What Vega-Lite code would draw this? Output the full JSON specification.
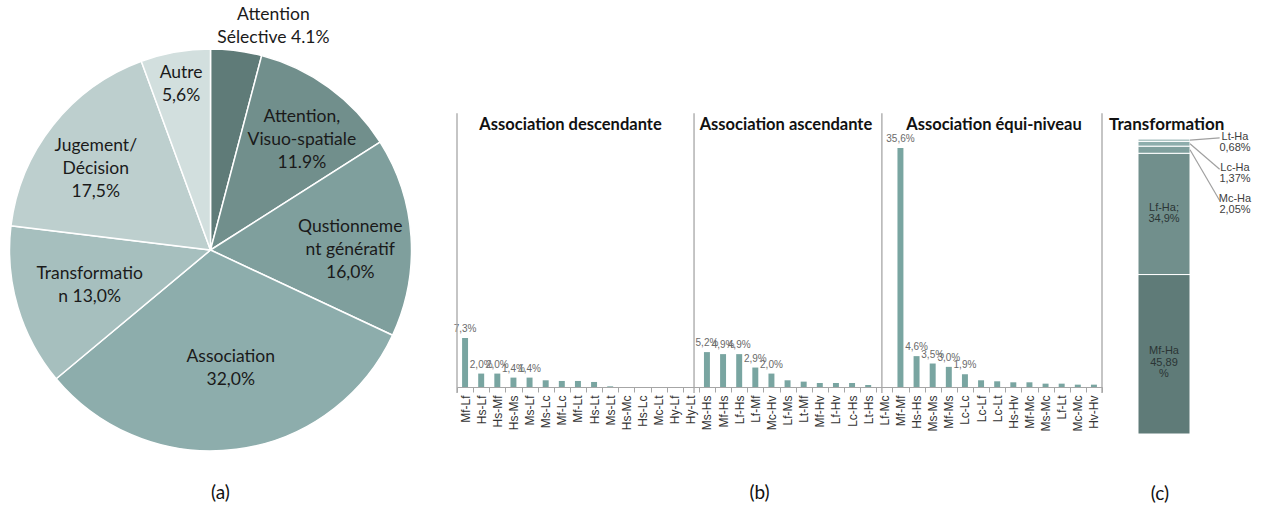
{
  "$schema": "https://vega.github.io/schema/vega-lite/v6.json",
  "padding": 0,
  "spacing": 36,
  "bounds": "flush",
  "background": "white",
  "config": {"view": {"stroke": null}, "font": "Lato"},
  "hconcat": [
    {
      "width": 421,
      "height": 500,
      "data": {"values": [
        {"cat": "Attention Sélective", "v": 4.1, "label": "Attention\nSélective 4.1%"},
        {"cat": "Attention, Visuo-spatiale", "v": 11.9, "label": "Attention,\nVisuo-spatiale\n11.9%"},
        {"cat": "Questionnement génératif", "v": 16.0, "label": "Qustionneme\nnt génératif\n16,0%"},
        {"cat": "Association", "v": 32.0, "label": "Association\n32,0%"},
        {"cat": "Transformation", "v": 13.0, "label": "Transformatio\nn 13,0%"},
        {"cat": "Jugement/Décision", "v": 17.5, "label": "Jugement/\nDécision\n17,5%"},
        {"cat": "Autre", "v": 5.6, "label": "Autre\n5,6%"}
      ]},
      "transform": [{"window": [{"op": "row_number", "as": "i"}]}],
      "title": {"text": "(a)", "orient": "bottom", "offset": -7, "baseline": "middle", "dx": 10, "fontSize": 19, "fontWeight": "normal", "font": "Lato", "color": "#111111"},
      "encoding": {
        "theta": {"field": "v", "type": "quantitative", "stack": true},
        "order": {"field": "i", "type": "quantitative"}
      },
      "layer": [
        {
          "mark": {"type": "arc", "outerRadius": 201, "stroke": "white", "strokeWidth": 1.5},
          "encoding": {
            "color": {"field": "cat", "type": "nominal", "legend": null,
              "scale": {"domain": ["Attention Sélective", "Attention, Visuo-spatiale", "Questionnement génératif", "Association", "Transformation", "Jugement/Décision", "Autre"],
                        "range": ["#5f7b78", "#718f8c", "#7f9f9d", "#8dadac", "#a6bfbe", "#bdcfce", "#d2dfde"]}}
          }
        },
        {
          "mark": {"type": "text", "lineBreak": "\n", "font": "Lato", "fontSize": 17.5, "lineHeight": 23, "color": "#1a1a1a", "align": "center", "baseline": "middle",
            "radius": {"expr": "datum.cat==='Attention Sélective'?225:datum.cat==='Autre'?168:datum.cat==='Association'?119:datum.cat==='Transformation'?126:datum.cat==='Attention, Visuo-spatiale'?143:140"},
            "dx": {"expr": "datum.cat==='Attention Sélective'?34:datum.cat==='Attention, Visuo-spatiale'?7:datum.cat==='Association'?5:datum.cat==='Jugement/Décision'?-5:0"},
            "dy": {"expr": "(datum.cat==='Attention, Visuo-spatiale'?5:datum.cat==='Questionnement génératif'?9:datum.cat==='Jugement/Décision'?6:0) - (length(split(datum.label, '\\n')) - 1) * 11.5"}
          },
          "encoding": {"text": {"field": "label", "type": "nominal"}}
        }
      ]
    },
    {
      "width": 645,
      "height": 387,
      "data": {"values": [
        {"section": "Association descendante", "cat": "Mf-Lf", "v": 7.3},
        {"section": "Association descendante", "cat": "Hs-Lf", "v": 2.0},
        {"section": "Association descendante", "cat": "Hs-Mf", "v": 2.0},
        {"section": "Association descendante", "cat": "Hs-Ms", "v": 1.4},
        {"section": "Association descendante", "cat": "Ms-Lf", "v": 1.4},
        {"section": "Association descendante", "cat": "Ms-Lc", "v": 1.0},
        {"section": "Association descendante", "cat": "Mf-Lc", "v": 0.9},
        {"section": "Association descendante", "cat": "Mf-Lt", "v": 0.9},
        {"section": "Association descendante", "cat": "Hs-Lt", "v": 0.75},
        {"section": "Association descendante", "cat": "Ms-Lt", "v": 0.1},
        {"section": "Association descendante", "cat": "Hs-Mc", "v": 0},
        {"section": "Association descendante", "cat": "Hs-Lc", "v": 0},
        {"section": "Association descendante", "cat": "Mc-Lt", "v": 0},
        {"section": "Association descendante", "cat": "Hy-Lf", "v": 0},
        {"section": "Association descendante", "cat": "Hy-Lt", "v": 0},
        {"section": "Association ascendante", "cat": "Ms-Hs", "v": 5.2},
        {"section": "Association ascendante", "cat": "Mf-Hs", "v": 4.9},
        {"section": "Association ascendante", "cat": "Lf-Hs", "v": 4.9},
        {"section": "Association ascendante", "cat": "Lf-Mf", "v": 2.9},
        {"section": "Association ascendante", "cat": "Mc-Hv", "v": 2.0},
        {"section": "Association ascendante", "cat": "Lf-Ms", "v": 1.0},
        {"section": "Association ascendante", "cat": "Lt-Mf", "v": 0.8},
        {"section": "Association ascendante", "cat": "Mf-Hv", "v": 0.6},
        {"section": "Association ascendante", "cat": "Lf-Hv", "v": 0.6},
        {"section": "Association ascendante", "cat": "Lc-Hs", "v": 0.6},
        {"section": "Association ascendante", "cat": "Lt-Hs", "v": 0.3},
        {"section": "Association équi-niveau", "cat": "Lf-Mc", "v": 0},
        {"section": "Association équi-niveau", "cat": "Mf-Mf", "v": 35.6},
        {"section": "Association équi-niveau", "cat": "Hs-Hs", "v": 4.6},
        {"section": "Association équi-niveau", "cat": "Ms-Ms", "v": 3.5},
        {"section": "Association équi-niveau", "cat": "Mf-Ms", "v": 3.0},
        {"section": "Association équi-niveau", "cat": "Lc-Lc", "v": 1.9},
        {"section": "Association équi-niveau", "cat": "Lc-Lf", "v": 1.0},
        {"section": "Association équi-niveau", "cat": "Lc-Lt", "v": 0.85},
        {"section": "Association équi-niveau", "cat": "Hs-Hv", "v": 0.7},
        {"section": "Association équi-niveau", "cat": "Mf-Mc", "v": 0.7},
        {"section": "Association équi-niveau", "cat": "Ms-Mc", "v": 0.5},
        {"section": "Association équi-niveau", "cat": "Lf-Lt", "v": 0.5},
        {"section": "Association équi-niveau", "cat": "Mc-Mc", "v": 0.35},
        {"section": "Association équi-niveau", "cat": "Hv-Hv", "v": 0.35}
      ]},
      "title": {"text": "(b)", "orient": "bottom", "offset": 62, "baseline": "middle", "dx": -20, "fontSize": 19, "fontWeight": "normal", "font": "Lato", "color": "#111111"},
      "layer": [
        {
          "mark": {"type": "bar", "color": "#79a5a1", "width": {"band": 0.37}},
          "encoding": {
            "x": {"field": "cat", "type": "nominal",
              "scale": {"paddingInner": 0, "paddingOuter": 0, "domain": ["Mf-Lf","Hs-Lf","Hs-Mf","Hs-Ms","Ms-Lf","Ms-Lc","Mf-Lc","Mf-Lt","Hs-Lt","Ms-Lt","Hs-Mc","Hs-Lc","Mc-Lt","Hy-Lf","Hy-Lt","Ms-Hs","Mf-Hs","Lf-Hs","Lf-Mf","Mc-Hv","Lf-Ms","Lt-Mf","Mf-Hv","Lf-Hv","Lc-Hs","Lt-Hs","Lf-Mc","Mf-Mf","Hs-Hs","Ms-Ms","Mf-Ms","Lc-Lc","Lc-Lf","Lc-Lt","Hs-Hv","Mf-Mc","Ms-Mc","Lf-Lt","Mc-Mc","Hv-Hv"]},
              "axis": {"title": null, "labelAngle": -90, "labelFont": "Liberation Sans", "labelFontSize": 12, "labelColor": "#333333", "labelPadding": 3, "tickBand": "extent", "tickSize": 5, "tickColor": "#a6a6a6", "domainColor": "#a6a6a6", "grid": false}},
            "y": {"field": "v", "type": "quantitative", "scale": {"domain": [0, 57.67], "nice": false, "zero": false}, "axis": null}
          }
        },
        {
          "transform": [
            {"filter": "datum.v >= 1.4"},
            {"calculate": "replace(format(datum.v, '.1f'), '.', ',') + '%'", "as": "lab"}
          ],
          "mark": {"type": "text", "font": "Liberation Sans", "fontSize": 10, "color": "#6a6a6a", "baseline": "alphabetic", "dy": -6},
          "encoding": {
            "x": {"field": "cat", "type": "nominal"},
            "y": {"field": "v", "type": "quantitative"},
            "text": {"field": "lab", "type": "nominal"}
          }
        },
        {
          "data": {"values": [{}]},
          "mark": {"type": "rule", "color": "#a6a6a6", "strokeWidth": 1.3},
          "encoding": {"x": {"datum": "Mf-Lf", "type": "nominal", "bandPosition": 0}, "y": {"datum": 40.8, "type": "quantitative"}, "y2": {"datum": -0.9}}
        },
        {
          "data": {"values": [{}]},
          "mark": {"type": "rule", "color": "#a6a6a6", "strokeWidth": 1.3},
          "encoding": {"x": {"datum": "Hy-Lt", "type": "nominal", "bandPosition": 0.7}, "y": {"datum": 40.8, "type": "quantitative"}, "y2": {"datum": -0.9}}
        },
        {
          "data": {"values": [{}]},
          "mark": {"type": "rule", "color": "#a6a6a6", "strokeWidth": 1.3},
          "encoding": {"x": {"datum": "Lf-Mc", "type": "nominal", "bandPosition": 0.35}, "y": {"datum": 40.8, "type": "quantitative"}, "y2": {"datum": -0.9}}
        },
        {
          "data": {"values": [{}]},
          "mark": {"type": "rule", "color": "#a6a6a6", "strokeWidth": 1.3},
          "encoding": {"x": {"datum": "Hv-Hv", "type": "nominal", "bandPosition": 1}, "y": {"datum": 40.8, "type": "quantitative"}, "y2": {"datum": -0.9}}
        },
        {
          "data": {"values": [{}]},
          "mark": {"type": "text", "font": "Lato", "fontWeight": "bold", "fontSize": 16.5, "color": "#111111", "baseline": "middle"},
          "encoding": {"x": {"datum": "Mf-Lt", "type": "nominal", "bandPosition": 0.04}, "y": {"datum": 39.05, "type": "quantitative"}, "text": {"value": "Association descendante"}}
        },
        {
          "data": {"values": [{}]},
          "mark": {"type": "text", "font": "Lato", "fontWeight": "bold", "fontSize": 16.5, "color": "#111111", "baseline": "middle"},
          "encoding": {"x": {"datum": "Lf-Ms", "type": "nominal", "bandPosition": 0.4}, "y": {"datum": 39.05, "type": "quantitative"}, "text": {"value": "Association ascendante"}}
        },
        {
          "data": {"values": [{}]},
          "mark": {"type": "text", "font": "Lato", "fontWeight": "bold", "fontSize": 16.5, "color": "#111111", "baseline": "middle"},
          "encoding": {"x": {"datum": "Lc-Lt", "type": "nominal", "bandPosition": 0.3}, "y": {"datum": 39.05, "type": "quantitative"}, "text": {"value": "Association équi-niveau"}}
        }
      ]
    },
    {
      "width": 52,
      "height": 434,
      "data": {"values": [
        {"seg": "Mf-Ha", "v": 45.89, "label": "Mf-Ha\n45,89\n%"},
        {"seg": "Lf-Ha", "v": 34.9, "label": "Lf-Ha;\n34,9%"},
        {"seg": "Mc-Ha", "v": 2.05, "label": "Mc-Ha\n2,05%"},
        {"seg": "Lc-Ha", "v": 1.37, "label": "Lc-Ha\n1,37%"},
        {"seg": "Lt-Ha", "v": 0.68, "label": "Lt-Ha\n0,68%"}
      ]},
      "transform": [
        {"window": [{"op": "row_number", "as": "i"}]},
        {"stack": "v", "groupby": [], "sort": [{"field": "i", "order": "ascending"}], "as": ["y0", "y1"]},
        {"calculate": "(datum.y0 + datum.y1) / 2", "as": "mid"},
        {"calculate": "84 - 9 * (5 - datum.i)", "as": "ly"},
        {"calculate": "datum.ly + 1.2", "as": "ly2"}
      ],
      "title": {"text": "(c)", "orient": "bottom", "offset": 59, "baseline": "middle", "dx": -4, "fontSize": 19, "fontWeight": "normal", "font": "Lato", "color": "#111111"},
      "layer": [
        {
          "mark": {"type": "bar", "stroke": "white", "strokeWidth": 1},
          "encoding": {
            "x": {"datum": 0, "type": "quantitative", "scale": {"domain": [0, 1], "nice": false, "zero": false}, "axis": null},
            "x2": {"datum": 1},
            "y": {"field": "y0", "type": "quantitative", "scale": {"domain": [0, 124.9], "nice": false}, "axis": null},
            "y2": {"field": "y1"},
            "color": {"field": "seg", "type": "nominal", "legend": null,
              "scale": {"domain": ["Mf-Ha", "Lf-Ha", "Mc-Ha", "Lc-Ha", "Lt-Ha"], "range": ["#67807c", "#7e9d9a", "#8fb2af", "#aecac8", "#d0e0df"]}}
          }
        },
        {
          "transform": [{"filter": "datum.v > 10"}],
          "mark": {"type": "text", "lineBreak": "\n", "font": "Liberation Sans", "fontSize": 11, "lineHeight": 11.5, "color": "#2b3535", "baseline": "middle",
            "dy": {"expr": "datum.seg === 'Lf-Ha' ? -6 : -3"}},
          "encoding": {"x": {"datum": 0.5, "type": "quantitative"}, "y": {"field": "mid", "type": "quantitative"}, "text": {"field": "label", "type": "nominal"}}
        },
        {
          "transform": [{"filter": "datum.v < 10"}],
          "mark": {"type": "rule", "color": "#a0a0a0", "strokeWidth": 1.2},
          "encoding": {"x": {"datum": 1, "type": "quantitative"}, "x2": {"datum": 1.57}, "y": {"field": "mid", "type": "quantitative"}, "y2": {"field": "ly2"}}
        },
        {
          "transform": [{"filter": "datum.v < 10"}],
          "mark": {"type": "text", "lineBreak": "\n", "font": "Liberation Sans", "fontSize": 11, "lineHeight": 11, "color": "#404040", "baseline": "middle", "dy": -5.5},
          "encoding": {"x": {"datum": 1.865, "type": "quantitative"}, "y": {"field": "ly", "type": "quantitative"}, "text": {"field": "label", "type": "nominal"}}
        },
        {
          "data": {"values": [{}]},
          "mark": {"type": "text", "font": "Lato", "fontWeight": "bold", "fontSize": 17, "color": "#111111", "baseline": "middle"},
          "encoding": {"x": {"datum": 0.55, "type": "quantitative"}, "y": {"datum": 88.9, "type": "quantitative"}, "text": {"value": "Transformation"}}
        }
      ]
    }
  ]
}
